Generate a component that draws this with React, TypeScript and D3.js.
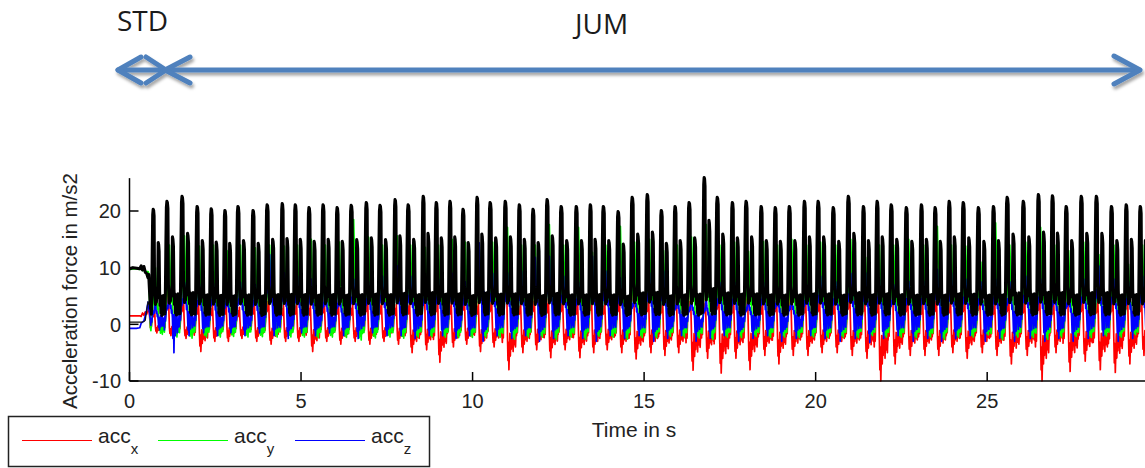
import React from 'react';
import * as d3 from 'd3';

const WIDTH = 1145;
const HEIGHT = 468;

// landing time (s) of every jump
const jumpTimes = [
  0.69, 1.09, 1.53, 1.97, 2.38, 2.78, 3.16, 3.6, 4.01, 4.45,
  4.83, 5.23, 5.64, 6.05, 6.46, 6.9, 7.3, 7.74, 8.12, 8.56,
  8.94, 9.34, 9.72, 10.13, 10.51, 10.95, 11.36, 11.76, 12.17, 12.58,
  13.02, 13.43, 13.81, 14.24, 14.65, 15.09, 15.5, 15.9, 16.31, 16.75,
  17.13, 17.57, 17.97, 18.41, 18.82, 19.23, 19.67, 20.07, 20.51, 20.95,
  21.39, 21.79, 22.2, 22.64, 23.08, 23.48, 23.89, 24.3, 24.74, 25.18,
  25.58, 26.05, 26.49, 26.9, 27.3, 27.74, 28.18, 28.62, 29.05, 29.46,
];

// peak of the black trace per jump
const blackPeaks = [
  20.3, 21.7, 22.6, 20.8, 20.4, 20.1, 20.8, 20.1, 21.1, 21.3,
  21.1, 20.6, 21.1, 20.6, 21.0, 21.5, 21.0, 22.0, 21.1, 22.6,
  21.5, 21.7, 20.3, 22.4, 21.5, 21.7, 21.1, 20.3, 22.0, 20.8,
  20.8, 21.1, 20.8, 19.9, 22.4, 22.9, 20.1, 20.8, 21.5, 25.9,
  22.4, 21.5, 21.7, 20.8, 20.6, 20.8, 21.7, 21.7, 20.6, 22.6,
  20.8, 21.7, 21.1, 20.6, 21.1, 20.6, 21.7, 21.5, 20.6, 20.8,
  22.4, 21.7, 22.9, 22.7, 20.8, 22.6, 22.6, 20.8, 21.1, 20.8,
];

const greenPeaks = [
  10, 14, 15.6, 13.8, 14, 13, 14, 13.5, 14, 13.8,
  14, 15, 14, 14.5, 18.5, 15.4, 14, 15.6, 14, 13.6,
  14, 15, 14.5, 14, 14.5, 17.1, 14, 14, 17.6, 14,
  17.1, 12.7, 14, 17.3, 14.5, 15, 13, 14, 15.4, 17.6,
  14, 14.5, 12.9, 14.6, 14, 15, 14, 14.5, 14, 15,
  11.8, 14, 14, 15, 14, 17.3, 14, 13.8, 11, 17.9,
  14, 14.5, 17.1, 14, 13, 14.5, 12.3, 14, 10.6, 14,
];

const bluePeaks = [
  3.9, 5.6, 7.4, 7, 7.2, 6.2, 7.4, 7, 12.3, 9.1,
  8.5, 8, 6.5, 6.2, 8, 7.5, 8.5, 10.3, 8.5, 7.4,
  8, 9, 7.5, 14.4, 9, 9.1, 9.4, 11.8, 12, 8.5,
  7.4, 12, 9.4, 8.2, 6.2, 9.1, 9.4, 5.6, 5, 4.7,
  7.4, 7.4, 5, 7.4, 6.2, 5.3, 7, 8.5, 7.5, 9,
  9.1, 8, 7, 7.6, 7.6, 9.7, 9.1, 8, 7.5, 8,
  7.5, 8.5, 8, 7, 6.2, 8, 10.3, 8, 7.5, 8.5,
];

const blueLows = [
  -1, -5, -2, -1.5, -2, -1.5, -2, -1.5, -2, -2.5,
  -1.5, -2, -1.5, -2, -2.5, -1.5, -2, -2, -2.5, -2,
  -2, -2.5, -2, -3, -2, -2.5, -2, -3, -2.5, -2,
  -2.5, -3, -2, -2.5, -2, -3, -2.5, -2, -3, -2.5,
  -2, -3, -2.5, -2, -3, -2.5, -2, -2.5, -3, -2.5,
  -3.2, -2.5, -2, -3, -2.5, -3, -2.5, -2, -3, -2.5,
  -3, -2.5, -3, -2.5, -3, -2.5, -2, -3, -2.5, -2,
];

const redHighs = [
  3, 7.9, 5, 4, 3.5, 4, 3, 4, 5, 3.5,
  4, 3.5, 4.5, 4, 3.5, 5, 4, 3.5, 4, 8.8,
  5, 4, 5.5, 4, 5, 9.1, 4, 5, 4.5, 5,
  4, 5.5, 4, 5, 9.1, 5, 4.5, 6.2, 5, 4.5,
  6, 4.5, 5.5, 4, 5, 7, 4.5, 5, 4, 6,
  5, 4.5, 7.4, 5, 4, 5, 4.5, 5, 5.5, 4,
  5, 4.5, 5.5, 4, 7, 5, 4.5, 5, 6, 5,
];

const redLows = [
  -1.5, -2, -2.5, -4.8, -3, -3, -2.5, -3, -3.5, -3,
  -3, -4.8, -3, -3.5, -3, -3.5, -3, -3.5, -5, -4.5,
  -6.7, -4, -3.5, -4.8, -4, -8, -5, -4.5, -5.9, -4.5,
  -5.9, -5, -4.5, -5, -6.1, -5, -5.5, -5, -8.1, -6,
  -8.6, -6, -8, -5.5, -7, -5.5, -5.5, -5, -5, -5.5,
  -6, -10, -7, -5.5, -5.5, -5.5, -5, -6, -5, -5.5,
  -7, -5.5, -10, -5, -8.3, -6.5, -8, -8.5, -7, -5.5,
];

// standing phase before the first jump
const stdTimes = [0, 0.1, 0.2, 0.3, 0.34, 0.38, 0.42, 0.46, 0.5, 0.54, 0.56];
const stdBlack = [9.8, 10.0, 9.9, 9.8, 10.3, 9.6, 10.2, 9.2, 9.0, 8.2, 8.8];
const stdGreen = [9.7, 9.8, 9.8, 9.7, 10.1, 9.5, 10.0, 9.3, 9.3, 9.3, 9.0];
const stdBlue = [-0.7, -0.7, -0.7, -0.6, 0.2, 0.4, 0.6, 1.5, 2.5, 3.9, 3.0];
const stdRed = [1.5, 1.5, 1.5, 1.5, 1.4, 2.0, 1.6, 2.2, 1.8, 2.5, 3.5];
const stdDark = [0.4, 0.4, 0.4, 0.4, 0.4, 0.4, 0.5, 0.7, 2.5, 4.0, 3.5];

// one jump cycle, 30 samples, landing peak at sample 6
const PEAK_AT = 6;
const blackShape = [
  0.1, 0.18, 0.05, 0.22, 0.62, 0.95, 1.0, 0.99, 0.94, 0.3,
  0.2, 0.14, 0.22, 0.16, 0.24, 0.2, 0.3, 0.7, 0.68, 0.62,
  0.26, 0.13, 0.22, 0.06, 0.18, 0.04, 0.16, 0.08, 0.22, 0.05,
];
const greenShape = [
  0.0, -0.06, 0.03, 0.08, 0.2, 0.3, 0.4, 0.5, 0.55, 0.65,
  0.85, 1.0, 0.8, 0.55, 0.35, 0.3, 0.4, 0.3, 0.15, 0.05,
  -0.05, 0.04, -0.1, 0.02, -0.08, 0.05, -0.12, 0.0, -0.06, 0.02,
];
const blueShape = [
  0.2, -0.2, 0.25, 0.1, 0.3, 0.5, 0.45, 0.6, 0.5, 0.7,
  0.9, 1.0, 0.7, 0.5, 0.6, 0.35, 0.45, 0.2, -0.5, 0.3,
  -1.0, 0.1, 0.4, -0.4, 0.25, 0.05, 0.35, -0.3, 0.15, -0.1,
];
const redShape = [
  -0.4, 0.1, -0.3, 0.15, 0.4, 0.6, 0.45, 0.8, 0.5, 1.0,
  0.3, -0.3, -0.8, -0.4, -1.0, -0.6, -0.2, -0.7, -0.35, -0.55,
  -0.15, -0.45, -0.25, -0.6, -0.2, -0.45, -0.1, -0.35, -0.5, -0.2,
];

const yTicks = [-10, 0, 10, 20];
const xTicks = [0, 5, 10, 15, 20, 25];

const legendItems = [
  {sub: 'x', color: '#ff0000', x: 22},
  {sub: 'y', color: '#00ff00', x: 158},
  {sub: 'z', color: '#0000ff', x: 295},
];

const FONT = 'Liberation Sans, Arial, sans-serif';
const ARROW = '#4f81bd';

function buildSeries(std: number[], shape: number[], value: (i: number, s: number) => number) {
  const pts: [number, number][] = stdTimes.map((t, j) => [t, std[j]]);
  jumpTimes.forEach((t0, i) => {
    const next = i + 1 < jumpTimes.length ? jumpTimes[i + 1] : t0 + (t0 - jumpTimes[i - 1]);
    const period = next - t0;
    shape.forEach((s, k) => {
      pts.push([t0 + ((k - PEAK_AT) * period) / shape.length, value(i, s)]);
    });
  });
  return pts;
}

const redSeries = buildSeries(stdRed, redShape, (i, s) => (s >= 0 ? s * redHighs[i] : -s * redLows[i]));
const greenSeries = buildSeries(stdGreen, greenShape, (i, s) => -0.5 + s * (greenPeaks[i] + 0.5));
const blueSeries = buildSeries(stdBlue, blueShape, (i, s) => (s >= 0 ? s * bluePeaks[i] : -s * blueLows[i]));
const blackSeries = buildSeries(stdBlack, blackShape, (i, s) => 0.8 + s * (blackPeaks[i] - 0.8));
const darkSeries: [number, number][] = stdTimes.map((t, j) => [t, stdDark[j]]);

export default function App() {
  const x = d3.scaleLinear().domain([0, 29.6]).range([129.5, 1145]);
  const y = d3.scaleLinear().domain([-10, 26]).range([381, 177]);
  const line = d3
    .line<[number, number]>()
    .x((d) => x(d[0]))
    .y((d) => y(d[1]));

  const x0 = x(0);
  const yBottom = y(-10);

  return (
    <svg
      width={WIDTH}
      height={HEIGHT}
      style={{position: 'absolute', left: 0, top: 0, background: '#fff'}}>
      <defs>
        <clipPath id="plot">
          <rect x={x0} y={0} width={WIDTH - x0} height={yBottom + 1} />
        </clipPath>
        <filter id="shadow" x="-5%" y="-50%" width="110%" height="200%">
          <feDropShadow dx={1.5} dy={3} stdDeviation={1.6} floodColor="#000" floodOpacity={0.35} />
        </filter>
      </defs>

      {/* phase labels and arrows */}
      <text x={117} y={31} fontFamily="Open Sans, sans-serif" fontSize={28} fill="#1b1b1b">
        STD
      </text>
      <text x={575} y={34} fontFamily="Open Sans, sans-serif" fontSize={28} fill="#1b1b1b">
        JUM
      </text>
      <g
        filter="url(#shadow)"
        stroke={ARROW}
        strokeWidth={5}
        fill="none"
        strokeLinecap="round"
        strokeLinejoin="round">
        <path d="M118,70 L165,70" />
        <path d="M141,57 L118,70 L141,83" />
        <path d="M146,57 L166,70 L146,83" />
        <path d="M165,70 L1139,70" />
        <path d="M190,57 L165,70 L190,83" />
        <path d="M1114,56 L1140,70 L1114,84" />
      </g>

      {/* data */}
      <g clipPath="url(#plot)" fill="none" strokeLinejoin="round">
        <path d={line(redSeries) ?? ''} stroke="#ff0000" strokeWidth={1.7} />
        <path d={line(greenSeries) ?? ''} stroke="#00ff00" strokeWidth={1.7} />
        <path d={line(blueSeries) ?? ''} stroke="#0000ff" strokeWidth={1.7} />
        <path d={line(darkSeries) ?? ''} stroke="#111" strokeWidth={1.2} />
        <path d={line(blackSeries) ?? ''} stroke="#000" strokeWidth={3.1} />
      </g>

      {/* axes */}
      <g stroke="#000" strokeWidth={1.5}>
        <line x1={x0} x2={x0} y1={y(25.8)} y2={yBottom} />
        <line x1={x0} x2={WIDTH} y1={yBottom} y2={yBottom} />
        {yTicks.map((t) => (
          <line key={'yt' + t} x1={x0} x2={x0 + 9} y1={y(t)} y2={y(t)} />
        ))}
        {xTicks.map((t) => (
          <line key={'xt' + t} x1={x(t)} x2={x(t)} y1={yBottom} y2={yBottom - 9} />
        ))}
      </g>
      <g fontFamily={FONT} fontSize={20} fill="#222">
        {yTicks.map((t) => (
          <text key={'yl' + t} x={121} y={y(t)} dy="0.36em" textAnchor="end">
            {t}
          </text>
        ))}
        {xTicks.map((t) => (
          <text key={'xl' + t} x={x(t)} y={408} textAnchor="middle">
            {t}
          </text>
        ))}
        <text x={634} y={437} textAnchor="middle" fontSize={21}>
          Time in s
        </text>
        <text transform="translate(77,291) rotate(-90)" textAnchor="middle" fontSize={20.5}>
          Acceleration force in m/s2
        </text>
      </g>

      {/* legend */}
      <rect x={8.5} y={416.5} width={421} height={50} fill="#fff" stroke="#222" strokeWidth={1.5} />
      {legendItems.map((d) => (
        <g key={d.sub}>
          <line x1={d.x} x2={d.x + 70} y1={440.5} y2={440.5} stroke={d.color} strokeWidth={1.2} />
          <text x={d.x + 76} y={443} fontFamily={FONT} fontSize={21} fill="#222">
            acc
            <tspan fontSize={15} dy={11}>
              {d.sub}
            </tspan>
          </text>
        </g>
      ))}
    </svg>
  );
}
